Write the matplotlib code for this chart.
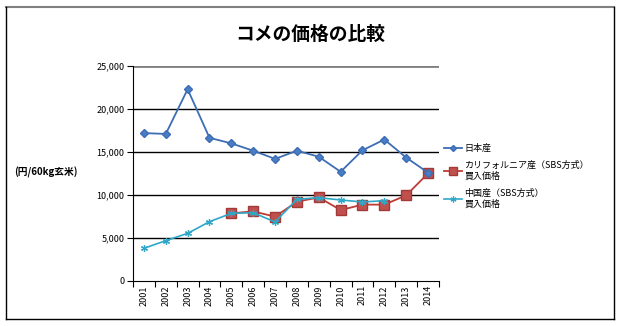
import matplotlib
matplotlib.use("Agg")
import matplotlib.pyplot as plt
from matplotlib.lines import Line2D
import numpy as np

plt.rcParams['font.family'] = ['Noto Sans CJK JP', 'DejaVu Sans']

years = ["2001", "2002", "2003", "2004", "2005", "2006", "2007",
         "2008", "2009", "2010", "2011", "2012", "2013", "2014"]
japan = [17200, 17100, 22300, 16650, 16000, 15150, 14200,
         15150, 14450, 12700, 15200, 16450, 14350, 12600]
california = [None, None, None, None, 7870, 8100, 7480,
              9220, 9720, 8250, 8880, 8880, 9960, 12520]
china = [3800, 4690, 5540, 6900, 7870, 7940, 6860,
         9500, 9690, 9420, 9190, 9340, None, None]
yticks = [0, 5000, 10000, 15000, 20000, 25000]

title = "コメの価格の比較"
ylabel = "(円/60kg玄米)"
names = ["日本産", "カリフォルニア産（SBS方式）\n買入価格", "中国産（SBS方式）\n買入価格"]

def arr(v):
    return np.array([np.nan if x is None else x for x in v], dtype=float)

fig = plt.figure(figsize=(6.2, 3.26), dpi=100)
W, H = 620, 326
ax = fig.add_axes([133 / W, 1 - 281 / H, (439 - 133) / W, (281 - 66) / H])

x = np.arange(len(years))
c_jp = "#3D6DB5"
c_ca = "#BE3B36"
c_cn = "#2FA8C8"

l1, = ax.plot(x, arr(japan), color=c_jp, lw=1.3, marker="D", ms=3.6,
              mfc="#4A7EC4", mec=c_jp, zorder=5)
l2, = ax.plot(x, arr(california), color=c_ca, lw=1.3, marker="s", ms=6.5,
              mfc="#C0504D", mec="#A33A37", zorder=4)
l3, = ax.plot(x, arr(china), color=c_cn, lw=1.2, marker=(6, 2, 0), ms=5,
              mec=c_cn, mew=0.9, zorder=6)

ax.set_xlim(-0.5, len(years) - 0.5)
ax.set_ylim(0, 25000)
ax.set_yticks(yticks)
ax.set_yticklabels([f"{v:,}" for v in yticks], fontsize=6.5)
for v in yticks[1:]:
    if v == 25000:
        ax.axhline(v, color="#808080", lw=2.0, zorder=1)
    else:
        ax.axhline(v, color="black", lw=1.0, zorder=1)

ax.set_xticks(np.arange(-0.5, len(years), 1.0), minor=False)
ax.set_xticklabels([])
ax.set_xticks(x, minor=True)
ax.set_xticklabels(years, minor=True, rotation=90, fontsize=6.5)
ax.tick_params(axis="x", which="minor", length=0, pad=3)
ax.tick_params(axis="x", which="major", length=4, direction="out", color="black")
ax.tick_params(axis="y", length=4, direction="out", pad=2)

for s in ["top", "right"]:
    ax.spines[s].set_visible(False)
ax.spines["left"].set_color("black")
ax.spines["bottom"].set_color("black")

fig.text(310 / W, 1 - 34 / H, title, ha="center", va="center",
         fontsize=13.5, fontweight="bold")
fig.text(14 / W, 1 - 172 / H, ylabel, ha="left", va="center",
         fontsize=7, fontweight="bold")

leg = ax.legend([l1, l2, l3], names, loc="upper left",
                bbox_to_anchor=(440 / W, 1 - 140 / H), bbox_transform=fig.transFigure,
                frameon=False, fontsize=6.5, handlelength=2.0, handletextpad=0.3,
                labelspacing=0.9, borderaxespad=0, markerscale=0.85)

# outer frame
fig.add_artist(Line2D([6 / W, 614 / W], [1 - 7 / H, 1 - 7 / H], transform=fig.transFigure,
                      color="#808080", lw=1.5))
fig.add_artist(Line2D([6 / W, 6 / W], [1 - 7 / H, 1 - 319 / H], transform=fig.transFigure,
                      color="black", lw=1.0))
fig.add_artist(Line2D([6 / W, 614 / W], [1 - 319 / H, 1 - 319 / H], transform=fig.transFigure,
                      color="black", lw=1.0))
fig.add_artist(Line2D([614 / W, 614 / W], [1 - 7 / H, 1 - 319 / H], transform=fig.transFigure,
                      color="black", lw=1.0))

fig.savefig("out.png", dpi=100)
